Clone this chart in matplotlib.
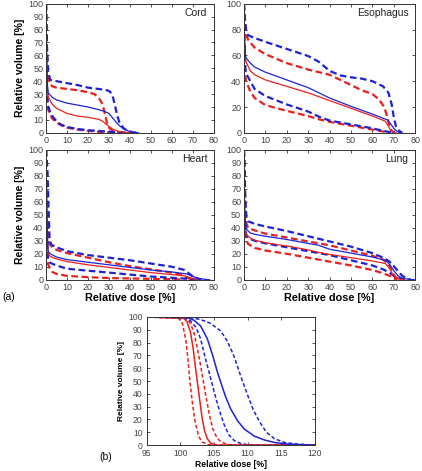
import numpy as np
import matplotlib
matplotlib.use("Agg")
import matplotlib.pyplot as plt

# DVH curves, (dose %, volume %)
# mean = solid, hi/lo = dashed bands

cord_red = [(0, 100), (0.3, 60), (0.7, 33), (1, 28), (3, 22), (5, 19), (10, 15), (15, 13), (20, 12), (25, 10.5), (27, 9), (28, 7.5), (30, 5), (32, 2.5), (35, 1), (38, 0.3), (41, 0)]
cord_blue = [(0, 100), (0.3, 60), (0.7, 36), (1, 31), (3, 27.5), (5, 25.5), (10, 23), (15, 21.5), (20, 20), (25, 18), (28, 16.5), (30, 15), (31, 13), (33, 9), (35, 5.5), (37, 3), (39, 1.5), (41, 0.5), (44, 0)]
cord_red_hi = [(0, 100), (0.5, 60), (1, 45), (1.5, 39), (3, 36), (5, 35), (10, 34), (15, 33), (20, 31.5), (23, 30), (25, 27.5), (27, 22), (28, 15), (29, 8), (30, 4), (32, 1.5), (34, 0.5), (36, 0)]
cord_blue_hi = [(0, 100), (0.5, 65), (1, 48), (2, 41), (5, 40), (10, 38.5), (15, 37), (20, 35), (25, 34), (29, 33), (30.5, 32), (32, 27), (33, 20), (34, 13), (35, 8), (37, 3.5), (39, 1.5), (41, 0.5), (44, 0)]
cord_red_lo = [(0, 100), (0.3, 40), (0.7, 22), (1, 18), (2, 14), (3, 11), (5, 8), (7, 6), (10, 4), (15, 2.5), (20, 1.5), (25, 0.8), (30, 0.3), (35, 0)]
cord_blue_lo = [(0, 100), (0.3, 45), (0.7, 26), (1, 21), (2, 16), (3, 13), (5, 9), (7, 6.5), (10, 4.5), (15, 3), (20, 2), (25, 1.5), (30, 0.8), (35, 0.3), (40, 0)]

eso_red = [(0, 100), (0.3, 70), (0.7, 58), (1, 55), (3, 48), (5, 45), (10, 41), (20, 36), (30, 31), (40, 25), (50, 19), (60, 13), (66, 9), (67.5, 5), (68.5, 2), (69.5, 0.5), (71, 0)]
eso_blue = [(0, 100), (0.3, 72), (0.7, 61), (1, 58), (3, 54), (5, 51), (10, 47), (20, 41), (30, 35), (40, 27), (50, 20.5), (60, 14.5), (67, 10), (68.5, 7), (70, 3.5), (71.5, 1), (73, 0)]
eso_red_hi = [(0, 100), (0.5, 85), (1, 76), (2, 72), (5, 66), (10, 61), (20, 54), (30, 49), (40, 45), (45, 41), (50, 37), (55, 33), (60, 30), (63, 26), (65.5, 20), (67, 12), (68, 5), (69, 1.5), (70, 0)]
eso_blue_hi = [(0, 100), (0.5, 88), (1, 80), (2, 75.5), (5, 73.5), (10, 70.5), (20, 65), (30, 59.5), (35, 55), (40, 48), (45, 44.5), (50, 43), (55, 42), (60, 40), (65, 36), (67.5, 31), (69, 22), (70, 12), (71, 5), (72.5, 1.5), (74, 0)]
eso_red_lo = [(0, 100), (0.3, 55), (0.7, 43), (1, 40), (3, 32), (5, 27), (10, 21.5), (20, 17), (30, 13), (35, 10.5), (40, 8.5), (50, 5.5), (60, 2.5), (65, 1), (68, 0)]
eso_blue_lo = [(0, 100), (0.3, 62), (0.7, 50), (1, 46), (3, 40), (5, 34), (10, 28.5), (20, 22), (30, 16.5), (35, 12.5), (40, 9.5), (50, 6.5), (60, 3.5), (65, 1.5), (70, 0)]

heart_red = [(0, 100), (0.3, 60), (0.7, 30), (1, 20), (2, 18), (5, 16), (10, 14), (20, 11.5), (30, 9.5), (40, 7.5), (50, 5.5), (60, 4), (66, 3), (68, 2), (70, 1), (72, 0)]
heart_blue = [(0, 100), (0.3, 65), (0.7, 33), (1, 22), (2, 20), (5, 17.5), (10, 15.5), (20, 13.5), (30, 11.5), (40, 9.5), (50, 7.5), (60, 6), (67, 4.5), (70, 2.5), (73, 1), (76, 0.3), (78, 0)]
heart_red_hi = [(0, 100), (0.5, 60), (1, 38), (1.5, 28), (3, 25), (5, 23), (10, 20.5), (20, 17), (30, 13.5), (40, 10.5), (50, 8), (60, 5.5), (64, 4), (66, 2.5), (68, 1), (70, 0)]
heart_blue_hi = [(0, 100), (0.7, 85), (1.2, 55), (1.7, 32), (2.5, 27), (5, 25), (10, 22), (20, 19), (30, 17), (40, 15), (50, 12.5), (60, 10), (66, 7.5), (68, 5), (70, 2.5), (72, 1), (74, 0)]
heart_red_lo = [(0, 100), (0.3, 35), (0.7, 16), (1, 12), (2, 8), (3, 6), (5, 4.5), (10, 3), (20, 2), (30, 1.3), (40, 1), (50, 0.7), (60, 0.4), (66, 0)]
heart_blue_lo = [(0, 100), (0.3, 45), (0.7, 22), (1, 16), (2, 13), (5, 11), (10, 8.5), (20, 7), (30, 5.5), (40, 4), (50, 2.5), (60, 1.5), (68, 0.7), (72, 0)]

lung_red = [(0, 100), (0.3, 55), (0.7, 38), (1, 35), (3, 32), (5, 30.5), (10, 28.5), (20, 26), (30, 23), (35, 21), (40, 19.5), (50, 17), (60, 14.5), (66, 12.5), (68, 9), (69.5, 4), (71, 1.5), (73, 0.3), (75, 0)]
lung_blue = [(0, 100), (0.3, 60), (0.7, 42), (1, 39), (3, 36), (5, 35), (10, 33.5), (20, 31), (30, 28), (35, 26.5), (40, 23.5), (50, 20.5), (60, 17.5), (66, 15), (68, 12), (70, 7), (72, 3), (74, 1.2), (77, 0.3), (80, 0)]
lung_red_hi = [(0, 100), (0.7, 55), (1.2, 43), (2, 40), (5, 38), (10, 35.5), (20, 32.5), (30, 29.5), (40, 26.5), (50, 22.5), (60, 18.5), (65, 15.5), (67.5, 12), (69, 7), (70.5, 2.5), (72, 0.8), (74, 0)]
lung_blue_hi = [(0, 100), (0.7, 60), (1.2, 48), (2, 45), (5, 43), (10, 41), (20, 37.5), (30, 33.5), (40, 29.5), (50, 25.5), (60, 20.5), (65, 17), (68, 14), (70, 10.5), (72, 6.5), (74, 3), (76, 1), (78, 0)]
lung_red_lo = [(0, 100), (0.5, 45), (1, 31), (2, 27.5), (5, 24.5), (10, 22.5), (20, 20), (30, 17), (40, 14), (50, 11), (60, 7.5), (65, 5), (68, 3), (70, 1.2), (71.5, 0)]
lung_blue_lo = [(0, 100), (0.5, 50), (1, 35), (2, 32), (5, 30), (10, 28), (20, 25), (30, 22), (40, 19), (50, 15), (60, 11), (65, 8), (68, 5.5), (70, 3), (72, 1.5), (75, 0)]

# panel (b): target DVH
ptv_red = [(95, 100), (100.5, 99), (101, 96), (101.5, 88), (101.9, 75), (102.2, 62), (102.5, 50), (102.8, 38), (103.2, 22), (103.6, 11), (104, 5), (104.5, 1.5), (105.5, 0), (120, 0)]
ptv_red_lo = [(95, 100), (99.7, 99), (100.3, 95), (100.8, 82), (101.1, 68), (101.4, 50), (101.8, 32), (102.2, 18), (102.7, 7), (103.2, 2.5), (104, 0.5), (105, 0), (120, 0)]
ptv_red_hi = [(95, 100), (100.8, 99), (101.5, 95), (102, 88), (102.5, 76), (103, 62), (103.4, 50), (103.8, 38), (104.3, 24), (104.8, 13), (105.4, 6), (106, 2.5), (107, 0.5), (108, 0), (120, 0)]
ptv_blue = [(95, 100), (101, 99.5), (102, 97.5), (103, 93), (104, 83), (104.8, 70), (105.5, 57), (106, 49), (106.7, 38), (107.5, 28), (108.5, 19), (109.5, 12.5), (111, 7), (112.5, 4), (114, 2), (116, 0.8), (118, 0.3), (120, 0)]
ptv_blue_lo = [(95, 100), (100.5, 99.5), (101.5, 97), (102.3, 92), (103, 83), (103.6, 70), (104.2, 58), (104.6, 50), (105.2, 38), (105.8, 27), (106.5, 16), (107.2, 8), (108, 3.5), (109, 1.2), (110, 0.3), (112, 0), (120, 0)]
ptv_blue_hi = [(95, 100), (101.5, 99.5), (103, 98), (104.5, 95), (106, 89), (107, 81), (108, 69), (108.7, 58), (109.3, 49), (110, 39), (110.8, 28), (111.8, 18), (112.8, 10), (114, 5), (115.5, 2), (117, 1), (119, 0.3), (120, 0)]

organs = ["Cord", "Esophagus", "Heart", "Lung"]
curves = {
    "Cord": [cord_red_hi, cord_red_lo, cord_blue_hi, cord_blue_lo, cord_red, cord_blue],
    "Esophagus": [eso_red_hi, eso_red_lo, eso_blue_hi, eso_blue_lo, eso_red, eso_blue],
    "Heart": [heart_red_hi, heart_red_lo, heart_blue_hi, heart_blue_lo, heart_red, heart_blue],
    "Lung": [lung_red_hi, lung_red_lo, lung_blue_hi, lung_blue_lo, lung_red, lung_blue],
}

RED = "#e8201e"
BLUE = "#1e22d6"
FONT = "Liberation Sans"
plt.rcParams["font.family"] = FONT


def style_ax(ax, fs, xpad=2, ypad=2):
    ax.tick_params(direction="in", top=True, right=True, labelsize=fs, length=2.5,
                   width=0.6, colors="#333333", labelcolor="#444444")
    ax.tick_params(axis="x", pad=xpad)
    ax.tick_params(axis="y", pad=ypad)
    for s in ax.spines.values():
        s.set_linewidth(0.7)
        s.set_color("#333333")


def draw(ax, pts, color, dashed, lw, dash):
    pts = np.array(pts)
    if dashed:
        ax.plot(pts[:, 0], pts[:, 1], color=color, lw=lw, dashes=dash)
    else:
        ax.plot(pts[:, 0], pts[:, 1], color=color, lw=lw)


fig = plt.figure(figsize=(4.22, 4.71), dpi=100)

pos = {
    "Cord": [0.109, 0.718, 0.398, 0.274],
    "Esophagus": [0.578, 0.718, 0.406, 0.274],
    "Heart": [0.109, 0.406, 0.398, 0.276],
    "Lung": [0.578, 0.406, 0.406, 0.276],
}

for name in organs:
    ax = fig.add_axes(pos[name])
    c = curves[name]
    cols = [RED, RED, BLUE, BLUE, RED, BLUE]
    dsh = [True, True, True, True, False, False]
    for pts, col, d in zip(c, cols, dsh):
        draw(ax, pts, col, d, 1.6 if d else 0.9, (3, 1.6))
    ax.set_xlim(0, 80)
    ax.set_ylim(0, 100)
    ax.set_xticks(np.arange(0, 81, 10))
    if name == "Esophagus":
        ax.set_yticks(np.arange(0, 101, 20))
    else:
        ax.set_yticks(np.arange(0, 101, 10))
    style_ax(ax, 6.5)
    ax.text(0.96, 0.93, name, transform=ax.transAxes, ha="right", va="center",
            fontsize=7.5, color="#222222")
    if name in ["Cord", "Heart"]:
        ax.set_ylabel("Relative volume [%]", fontsize=7.5, fontweight="bold", labelpad=2)
    if name in ["Heart", "Lung"]:
        ax.set_xlabel("Relative dose [%]", fontsize=7.8, fontweight="bold", labelpad=1)

axb = fig.add_axes([0.348, 0.055, 0.398, 0.272])
b_curves = [ptv_red_lo, ptv_red_hi, ptv_blue_lo, ptv_blue_hi, ptv_red, ptv_blue]
b_cols = [RED, RED, BLUE, BLUE, RED, BLUE]
b_dsh = [True, True, True, True, False, False]
for pts, col, d in zip(b_curves, b_cols, b_dsh):
    draw(axb, pts, col, d, 1.1, (2.5, 1.5))
axb.set_xlim(95, 120)
axb.set_ylim(0, 100)
axb.set_xticks(np.arange(95, 121, 5))
axb.set_yticks(np.arange(0, 101, 10))
style_ax(axb, 6.2, xpad=3, ypad=3)
axb.set_ylabel("Relative volume [%]", fontsize=6, fontweight="bold", labelpad=2)
axb.set_xlabel("Relative dose [%]", fontsize=6.2, fontweight="bold", labelpad=1)

fig.text(0.005, 0.369, "(a)", fontsize=7.5, va="center")
fig.text(0.236, 0.030, "(b)", fontsize=7.5, va="center")

fig.savefig("out.png", dpi=100)
